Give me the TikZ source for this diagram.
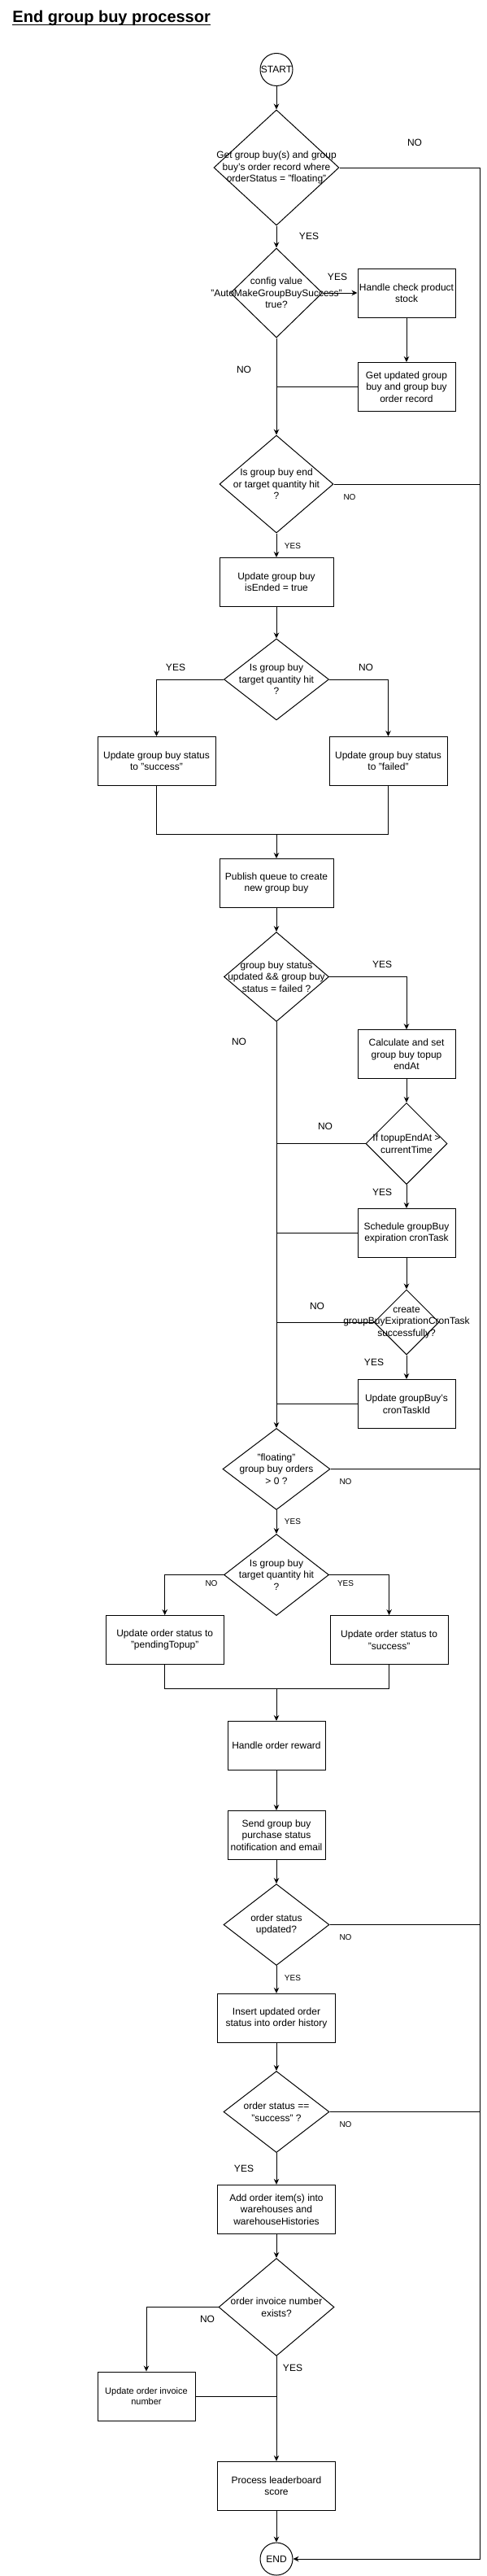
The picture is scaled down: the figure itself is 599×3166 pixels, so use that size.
\documentclass[tikz,border=0pt]{standalone}
\usepackage{fontspec}
\setmainfont{Liberation Sans}
\usetikzlibrary{arrows.meta,shapes.geometric,positioning}

\tikzset{
  box/.style={draw, rectangle, minimum width=120pt, minimum height=60pt, inner sep=1pt, align=center, font=\fontsize{12}{14.4}\selectfont},
  decision/.style={draw, diamond, inner sep=0pt},
  dtext/.style={inner sep=0pt, align=center, font=\fontsize{12}{14.4}\selectfont},
  term/.style={draw, circle, minimum size=40pt, inner sep=0pt},
  yn/.style={inner sep=0pt, font=\fontsize{12}{14.4}\selectfont},
  ynsmall/.style={inner sep=0pt, font=\fontsize{10}{12}\selectfont},
  arr/.style={-{Stealth[length=7pt,width=6.5pt]}}
}

\begin{document}
\begin{tikzpicture}[x=1pt,y=-1pt,line width=1pt]
\useasboundingbox (0,0) rectangle (599,3166);

\node[anchor=base west,inner sep=0pt,font=\bfseries\fontsize{20}{24}\selectfont] (title) at (15,27.5) {End group buy processor};
\draw[line width=1.4pt] ([yshift=-2.8pt]title.base west) -- ([yshift=-2.8pt]title.base east);

\node[term,label={[dtext]center:START}] (start) at (340,85.5) {};
\node[decision,minimum width=154pt,minimum height=142pt,label={[dtext]center:{Get group buy(s) and group\\buy's order record where\\orderStatus = "floating"}}] (d1) at (340,206) {};
\node[decision,minimum width=113pt,minimum height=110pt,label={[dtext]center:{config value\\"AutoMakeGroupBuySuccess"\\true?}}] (d2) at (340,360) {};
\node[box] (b1) at (500,360) {Handle check product\\stock};
\node[box] (b2) at (500,475.5) {Get updated group\\buy and group buy\\order record};
\node[decision,minimum width=140pt,minimum height=120pt,label={[dtext]center:{Is group buy end\\or target quantity hit\\?}}] (d3) at (340,595) {};
\node[box,minimum width=140pt] (b3) at (340,715.5) {Update group buy\\isEnded = true};
\node[decision,minimum width=129pt,minimum height=100pt,label={[dtext]center:{Is group buy\\target quantity hit\\?}}] (d4) at (340,835) {};
\node[box,minimum width=145pt] (b4) at (192.5,935.5) {Update group buy status\\to "success"};
\node[box,minimum width=145pt] (b5) at (477.5,935.5) {Update group buy status\\to "failed"};
\node[box,minimum width=140pt] (b6) at (340,1085.5) {Publish queue to create\\new group buy};
\node[decision,minimum width=129pt,minimum height=110pt,label={[dtext]center:{group buy status\\updated \&\& group buy\\status = failed ?}}] (d5) at (340,1200.5) {};
\node[box] (b7) at (500,1295.7) {Calculate and set\\group buy topup\\endAt};
\node[decision,minimum width=100pt,minimum height=100pt,label={[dtext]center:{If topupEndAt >\\currentTime}}] (d6) at (500,1405.5) {};
\node[box] (b8) at (500,1515.5) {Schedule groupBuy\\expiration cronTask};
\node[decision,minimum width=80pt,minimum height=80pt,label={[dtext]center:{create\\groupBuyExiprationCronTask\\successfully?}}] (d7) at (500,1625) {};
\node[box] (b9) at (500,1725.5) {Update groupBuy's\\cronTaskId};
\node[decision,minimum width=132pt,minimum height=100pt,label={[dtext]center:{"floating"\\group buy orders\\> 0 ?}}] (d8) at (340,1805.5) {};
\node[decision,minimum width=129pt,minimum height=100pt,label={[dtext]center:{Is group buy\\target quantity hit\\?}}] (d9) at (340,1935.5) {};
\node[box,minimum width=145pt] (b10) at (202.7,2015.5) {Update order status to\\"pendingTopup"};
\node[box,minimum width=145pt] (b11) at (478.6,2015.5) {Update order status to\\"success"};
\node[box] (b12) at (340,2145.5) {Handle order reward};
\node[box] (b13) at (340,2255.5) {Send group buy\\purchase status\\notification and email};
\node[decision,minimum width=130pt,minimum height=100pt,label={[dtext]center:{order status\\updated?}}] (d10) at (340,2365.5) {};
\node[box,minimum width=145pt] (b14) at (340,2480.3) {Insert updated order\\status into order history};
\node[decision,minimum width=130pt,minimum height=100pt,label={[dtext]center:{order status ==\\"success" ?}}] (d11) at (340,2595.5) {};
\node[box,minimum width=145pt] (b15) at (340,2715.3) {Add order item(s) into\\warehouses and\\warehouseHistories};
\node[decision,minimum width=142pt,minimum height=120pt,label={[dtext]center:{order invoice number\\exists?}}] (d12) at (340,2835.5) {};
\node[box,font=\fontsize{11}{13.2}\selectfont] (b16) at (180,2945) {Update order invoice\\number};
\node[box,minimum width=145pt] (b17) at (340,3055.3) {Process leaderboard\\score};
\node[term,label={[dtext]center:END}] (endn) at (340,3145) {};

\coordinate (rail) at (590,206);
\coordinate (m1) at (340,1025);
\coordinate (m2) at (340,2075);

\draw[arr] (start) -- (d1);
\draw[arr] (d1) -- (d2);
\draw[arr] (d2) -- (b1);
\draw[arr] (b1) -- (b2);
\draw (b2.west) -- (b2.west -| d2.south);
\draw[arr] (d2) -- (d3);
\draw[arr] (d3) -- (b3);
\draw[arr] (b3) -- (d4);
\draw[arr] (d4.west) -| (b4.north);
\draw[arr] (d4.east) -| (b5.north);
\draw (b4.south) |- (m1) -| (b5.south);
\draw[arr] (m1) -- (b6);
\draw[arr] (b6) -- (d5);
\draw[arr] (d5.east) -| (b7.north);
\draw[arr] (b7) -- (d6);
\draw (d6.west) -- (d6.west -| d5.south);
\draw[arr] (d6) -- (b8);
\draw (b8.west) -- (b8.west -| d5.south);
\draw[arr] (b8) -- (d7);
\draw (d7.west) -- (d7.west -| d5.south);
\draw[arr] (d7) -- (b9);
\draw (b9.west) -- (b9.west -| d5.south);
\draw[arr] (d5) -- (d8);
\draw[arr] (d8) -- (d9);
\draw[arr] (d9.west) -| (b10.north);
\draw[arr] (d9.east) -| (b11.north);
\draw (b10.south) |- (m2) -| (b11.south);
\draw[arr] (m2) -- (b12);
\draw[arr] (b12) -- (b13);
\draw[arr] (b13) -- (d10);
\draw[arr] (d10) -- (b14);
\draw[arr] (b14) -- (d11);
\draw[arr] (d11) -- (b15);
\draw[arr] (b15) -- (d12);
\draw[arr] (d12.west) -| (b16.north);
\draw (b16.east) -- (b16.east -| d12.south);
\draw[arr] (d12) -- (b17);
\draw[arr] (b17) -- (endn);
\draw[arr] (d1.east) -- (rail) |- (endn.east);
\foreach \d in {d3,d8,d10,d11}
  \draw (\d.east) -- (\d.east -| rail);

\node[yn] (no1) at (510,175) {NO};
\node[yn] (yes1) at (380,290) {YES};
\node[yn] (yes2) at (415,340) {YES};
\node[yn] (no2) at (300,454) {NO};
\node[ynsmall] (no3) at (430,611) {NO};
\node[ynsmall] (yes3) at (360,671) {YES};
\node[yn] (yes4) at (216,820) {YES};
\node[yn] (no4) at (450,820) {NO};
\node[yn] (yes5) at (470,1185) {YES};
\node[yn] (no5) at (294,1280) {NO};
\node[yn] (no6) at (400,1384) {NO};
\node[yn] (yes6) at (470,1465) {YES};
\node[yn] (no7) at (390,1605) {NO};
\node[yn] (yes7) at (460,1674) {YES};
\node[ynsmall] (no8) at (425,1821) {NO};
\node[ynsmall] (yes8) at (360,1870) {YES};
\node[ynsmall] (no9) at (260,1946) {NO};
\node[ynsmall] (yes9) at (425,1946) {YES};
\node[ynsmall] (no10) at (425,2381) {NO};
\node[ynsmall] (yes10) at (360,2431) {YES};
\node[ynsmall] (no11) at (425,2611) {NO};
\node[yn] (yes11) at (300,2665) {YES};
\node[yn] (no12) at (255,2850) {NO};
\node[yn] (yes12) at (360,2910) {YES};
\end{tikzpicture}
\end{document}
